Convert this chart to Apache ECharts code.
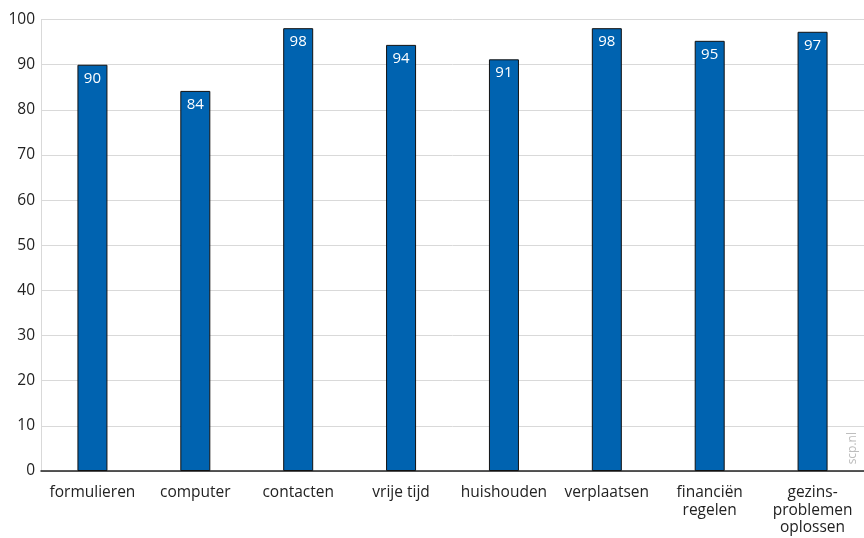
<!DOCTYPE html>
<html><head><meta charset="utf-8">
<script src="https://cdn.jsdelivr.net/npm/echarts@6/dist/echarts.min.js"></script>
<style>html,body{margin:0;padding:0;background:#fff}#c{width:864px;height:538px}</style>
</head><body><div id="c"></div>
<script>
const categories = ['formulieren','computer','contacten','vrije tijd','huishouden','verplaatsen','financiën\nregelen','gezins-\nproblemen\noplossen'];
const values = [90, 84.2, 98.1, 94.4, 91.2, 98.1, 95.3, 97.3];
const yTicks = {min: 0, max: 100, interval: 10};

const FONT = '"Open Sans", sans-serif';
const chart = echarts.init(document.getElementById('c'), null, {renderer: 'canvas'});
chart.setOption({
  animation: false,
  grid: {left: 41, right: -3.5, top: 19.6, bottom: 67, containLabel: false},
  xAxis: {
    type: 'category', data: categories,
    axisLine: {show: true, lineStyle: {color: '#222', width: 1.5}},
    axisTick: {show: false},
    axisLabel: {color: '#222', fontFamily: FONT, fontSize: 15.5, margin: 13, lineHeight: 17.5, interval: 0}
  },
  yAxis: {
    type: 'value', min: yTicks.min, max: yTicks.max, interval: yTicks.interval,
    axisLine: {show: true, lineStyle: {color: '#d9d9d9', width: 1}},
    axisTick: {show: false},
    splitLine: {lineStyle: {color: '#d9d9d9', width: 1}},
    axisLabel: {color: '#222', fontFamily: FONT, fontSize: 15.5, margin: 6}
  },
  series: [{
    type: 'bar', data: values, barWidth: 30,
    itemStyle: {color: '#0063b0', borderColor: '#111', borderWidth: 1},
    label: {show: true, position: 'insideTop', distance: 6, color: '#fff', fontFamily: FONT, fontSize: 15,
      formatter: p => Math.round(p.value)}
  }],
  graphic: [{
    type: 'text', left: 847, top: 432, rotation: Math.PI/2,
    style: {text: 'scp.nl', fill: '#bdbdbd', font: '12px ' + FONT}
  }]
});
</script></body></html>
